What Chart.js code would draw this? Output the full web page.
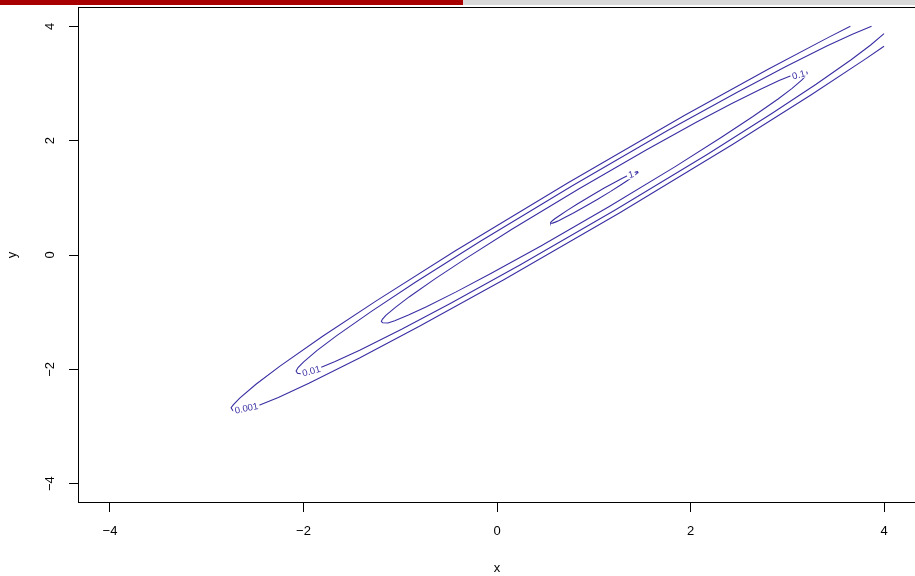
<!DOCTYPE html>
<html>
<head>
<meta charset="utf-8">
<script src="https://cdn.jsdelivr.net/npm/chart.js@4.4.1/dist/chart.umd.min.js"></script>
<style>
  html, body { margin: 0; padding: 0; background: #fff; }
  #wrap { position: relative; width: 915px; height: 576px; overflow: hidden; }
  #bar { position: absolute; left: 0; top: 0; width: 915px; height: 5px; background: #d9d9d9; }
  #bar div { width: 463px; height: 5px; background: #a80000; }
  canvas { display: block; }
</style>
</head>
<body>
<div id="wrap">
  <canvas id="c" width="915" height="576"></canvas>
  <div id="bar"><div></div></div>
</div>
<script>
// Axis setup
const tickValues = [-4, -2, 0, 2, 4];
const axisRange = [-4.32, 4.32];

// Contour levels and the traced [x, y] path of each level
const levels = ['1', '0.1', '0.01', '0.001'];

const contourL1 = [
  [1.456,1.456],[1.451,1.457],[1.441,1.454],[1.426,1.446],[1.397,1.425],[1.358,1.395],
  [1.295,1.341],[1.219,1.274],[1.113,1.175],[0.968,1.032],[0.826,0.887],[0.726,0.781],
  [0.659,0.705],[0.605,0.642],[0.575,0.603],[0.558,0.578],[0.553,0.565],[0.556,0.560],
  [0.562,0.556],[0.574,0.558],[0.603,0.575],[0.642,0.605],[0.705,0.659],[0.781,0.726],
  [0.887,0.826],[1.032,0.968],[1.175,1.113],[1.274,1.219],[1.341,1.295],[1.395,1.358],
  [1.425,1.397],[1.446,1.426],[1.454,1.441],[1.457,1.451],[1.456,1.456]
];

const contourL01 = [
  [3.201,3.201],[3.175,3.206],[3.127,3.188],[3.057,3.149],[2.915,3.050],[2.729,2.905],
  [2.422,2.645],[2.059,2.320],[1.546,1.842],[0.844,1.156],[0.158,0.454],[-0.320,-0.059],
  [-0.645,-0.422],[-0.905,-0.729],[-1.050,-0.915],[-1.149,-1.057],[-1.185,-1.125],
  [-1.195,-1.160],[-1.182,-1.185],[-1.127,-1.188],[-1.057,-1.149],[-0.915,-1.050],
  [-0.729,-0.905],[-0.422,-0.645],[-0.059,-0.320],[0.454,0.158],[1.156,0.844],
  [1.842,1.546],[2.320,2.059],[2.645,2.422],[2.905,2.729],[3.050,2.915],[3.149,3.057],
  [3.188,3.127],[3.206,3.175],[3.201,3.201]
];

const contourL001 = [
  [3.871,4.000],[3.673,3.862],[3.414,3.660],[2.986,3.298],[2.478,2.844],[1.763,2.176],
  [0.783,1.217],[-0.176,0.237],[-0.844,-0.478],[-1.298,-0.986],[-1.660,-1.414],
  [-1.862,-1.673],[-2.001,-1.872],[-2.056,-1.969],[-2.076,-2.030],[-2.062,-2.068],
  [-2.030,-2.078],[-1.969,-2.056],[-1.872,-2.001],[-1.673,-1.862],[-1.414,-1.660],
  [-0.986,-1.298],[-0.478,-0.844],[0.237,-0.176],[1.217,0.783],[2.176,1.763],
  [2.844,2.478],[3.298,2.986],[3.660,3.414],[3.862,3.673],[4.000,3.871]
];

const contourL0001 = [
  [3.652,4.000],[3.421,3.802],[2.802,3.248],[1.931,2.434],[0.735,1.265],[-0.434,0.070],
  [-1.248,-0.802],[-1.802,-1.421],[-2.243,-1.944],[-2.491,-2.260],[-2.659,-2.503],
  [-2.726,-2.621],[-2.748,-2.672],[-2.730,-2.722],[-2.690,-2.742],[-2.621,-2.726],
  [-2.503,-2.659],[-2.260,-2.491],[-1.944,-2.243],[-1.421,-1.802],[-0.802,-1.248],
  [0.070,-0.434],[1.265,0.735],[2.434,1.931],[3.248,2.802],[3.802,3.421],[4.000,3.652]
];

const contourPaths = [contourL1, contourL01, contourL001, contourL0001];

// Where each level's label sits on its line (data units)
const labelAt = [[1.385, 1.405], [3.117, 3.15], [-1.92, -2.03], [-2.59, -2.68]];

const INK = 'rgb(56,46,162)';
const FONT = '"Liberation Sans", Arimo, Arial, Helvetica, sans-serif';
const LABEL_TILT = [-15, -15, -16, -12];

const fmtTick = v => (v < 0 ? '\u2212' + Math.abs(v) : String(v));

// Labels break the contour line: white backing, then the level text
const contourLabels = {
  id: 'contourLabels',
  afterDatasetsDraw(chart) {
    const { ctx, scales: { x, y } } = chart;
    ctx.save();
    ctx.font = '9.5px ' + FONT;
    ctx.textAlign = 'center';
    ctx.textBaseline = 'middle';
    levels.forEach((txt, i) => {
      const px = x.getPixelForValue(labelAt[i][0]);
      const py = y.getPixelForValue(labelAt[i][1]);
      const w = ctx.measureText(txt).width + 3;
      ctx.save();
      ctx.translate(px, py);
      ctx.rotate(LABEL_TILT[i] * Math.PI / 180);
      ctx.fillStyle = '#fff';
      ctx.fillRect(-w / 2, -4, w, 8);
      ctx.fillStyle = INK;
      ctx.fillText(txt, 0, 0.5);
      ctx.restore();
    });
    ctx.restore();
  }
};

// Plot frame around the chart area
const frame = {
  id: 'frame',
  afterDraw(chart) {
    const { ctx, chartArea: a } = chart;
    ctx.save();
    ctx.strokeStyle = '#000';
    ctx.lineWidth = 1;
    ctx.strokeRect(a.left - 0.5, a.top - 0.5, a.right - a.left + 1, a.bottom - a.top + 1);
    ctx.restore();
  }
};

const axisCommon = {
  type: 'linear',
  min: axisRange[0],
  max: axisRange[1],
  afterBuildTicks: s => { s.ticks = tickValues.map(v => ({ value: v })); },
  grid: { display: true, drawOnChartArea: false, drawTicks: true, tickLength: 10, color: '#000', lineWidth: 1 },
  border: { display: false }
};

new Chart(document.getElementById('c'), {
  type: 'scatter',
  data: {
    datasets: levels.map((lvl, i) => ({
      label: lvl,
      data: contourPaths[i].map(([x, y]) => ({ x, y })),
      showLine: true,
      borderColor: INK,
      borderWidth: 1.1,
      pointRadius: 0,
      pointHoverRadius: 0,
      tension: 0,
      fill: false
    }))
  },
  options: {
    responsive: false,
    animation: false,
    devicePixelRatio: 1,
    layout: { padding: { top: 8, right: 0, bottom: 0, left: 0 } },
    plugins: { legend: { display: false }, tooltip: { enabled: false } },
    scales: {
      x: Object.assign({}, axisCommon, {
        position: 'bottom',
        afterFit: s => { s.height = 74; s.paddingLeft = 0; s.paddingRight = 0; },
        ticks: { color: '#000', font: { family: FONT, size: 13 }, padding: 12, minRotation: 0, maxRotation: 0, autoSkip: false, callback: fmtTick },
        title: { display: true, text: 'x', color: '#000', font: { family: FONT, size: 13 }, padding: { top: 0, bottom: 0 } }
      }),
      y: Object.assign({}, axisCommon, {
        position: 'left',
        afterFit: s => { s.width = 79; s.paddingTop = 0; s.paddingBottom = 0; },
        ticks: { color: '#000', font: { family: FONT, size: 13 }, padding: 11, minRotation: 90, maxRotation: 90, crossAlign: 'center', autoSkip: false, callback: fmtTick },
        title: { display: true, text: 'y', color: '#000', font: { family: FONT, size: 13 }, padding: { top: 5, bottom: 0 } }
      })
    }
  },
  plugins: [contourLabels, frame]
});
</script>
</body>
</html>
